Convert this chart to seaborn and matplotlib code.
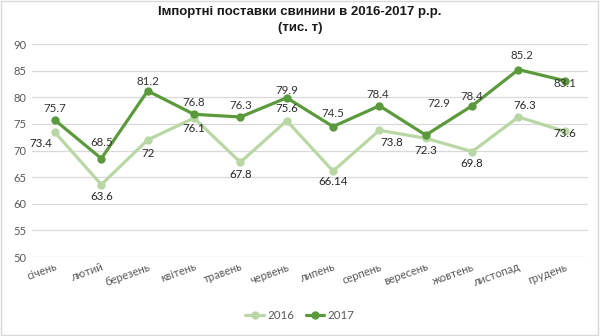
import matplotlib
matplotlib.use("Agg")
import matplotlib.pyplot as plt
from matplotlib.patches import Rectangle
import seaborn as sns
import pandas as pd

months = ["січень", "лютий", "березень", "квітень", "травень", "червень",
          "липень", "серпень", "вересень", "жовтень", "листопад", "грудень"]
imports_2016 = [73.4, 63.6, 72, 76.1, 67.8, 75.6, 66.14, 73.8, 72.3, 69.8, 76.3, 73.6]
imports_2017 = [75.7, 68.5, 81.2, 76.8, 76.3, 79.9, 74.5, 78.4, 72.9, 78.4, 85.2, 83.1]
years = ["2016", "2017"]
y_ticks = [50, 55, 60, 65, 70, 75, 80, 85, 90]

# label offsets in pixels (dx, dy) for each point
offs_2016 = [(-14, -11), (0, -12), (0, -14), (0, -10), (0, -12), (0, 12),
             (0, -10), (12, -12), (0, -12), (0, -12), (6, 11), (0, -2)]
offs_2017 = [(0, 12), (0, 16), (0, 9), (0, 12), (0, 11), (0, 7),
             (0, 13), (-2, 11), (13, 32), (0, 9), (3, 14), (0, -3)]

df = pd.DataFrame({
    "month": months * 2,
    "value": imports_2016 + imports_2017,
    "year": [years[0]] * 12 + [years[1]] * 12,
})

palette = {"2016": "#b9d7a4", "2017": "#5b9a3c"}

sns.set_theme(style="white")
plt.rcParams["font.family"] = ["Lato", "DejaVu Sans"]

fig = plt.figure(figsize=(6, 3.36), dpi=100)
ax = fig.add_axes([0.053, 0.235, 0.927, 0.634])

sns.lineplot(data=df, x="month", y="value", hue="year", palette=palette,
             marker="o", markersize=6, markeredgewidth=0, linewidth=2.3,
             sort=False, ax=ax, legend=True)

ax.set_ylim(50, 90)
ax.set_xlim(-0.5, 11.5)
ax.set_yticks(y_ticks)
ax.yaxis.grid(True, color="#d9d9d9", linewidth=0.9)
ax.set_axisbelow(True)
for s in ax.spines.values():
    s.set_visible(False)
ax.set_xlabel("")
ax.set_ylabel("")
ax.tick_params(axis="y", labelsize=8, colors="#595959", length=0, pad=4)
ax.tick_params(axis="x", labelsize=8, colors="#595959", length=0, pad=3)
ax.set_xticks(range(len(months)))
ax.set_xticklabels(months, rotation=20, ha="right", rotation_mode="anchor")

for i, v in enumerate(imports_2016):
    dx, dy = offs_2016[i]
    ax.annotate(f"{v:g}", (i, v), xytext=(dx, dy), textcoords="offset pixels",
                ha="center", va="center", fontsize=8.3, color="#262626")
for i, v in enumerate(imports_2017):
    dx, dy = offs_2017[i]
    ax.annotate(f"{v:g}", (i, v), xytext=(dx, dy), textcoords="offset pixels",
                ha="center", va="center", fontsize=8.3, color="#333333")

handles, labels = ax.get_legend_handles_labels()
ax.legend(handles, labels, loc="center", bbox_to_anchor=(0.5, 0.06),
          bbox_transform=fig.transFigure, ncol=2, frameon=False,
          fontsize=8.3, labelcolor="#595959", handlelength=1.6,
          columnspacing=1.0, handletextpad=0.3)

fig.text(0.5, 0.982, "Імпортні поставки свинини в 2016-2017 р.р.\n(тис. т)",
         ha="center", va="top", fontsize=9.5, fontweight="bold",
         family=["Liberation Sans", "DejaVu Sans"], color="#1a1a1a",
         linespacing=1.4)

fig.patches.append(Rectangle((0.002, 0.003), 0.995, 0.994,
                             transform=fig.transFigure, fill=False,
                             edgecolor="#d9d9d9", linewidth=1))

fig.savefig("out.png", dpi=100)
